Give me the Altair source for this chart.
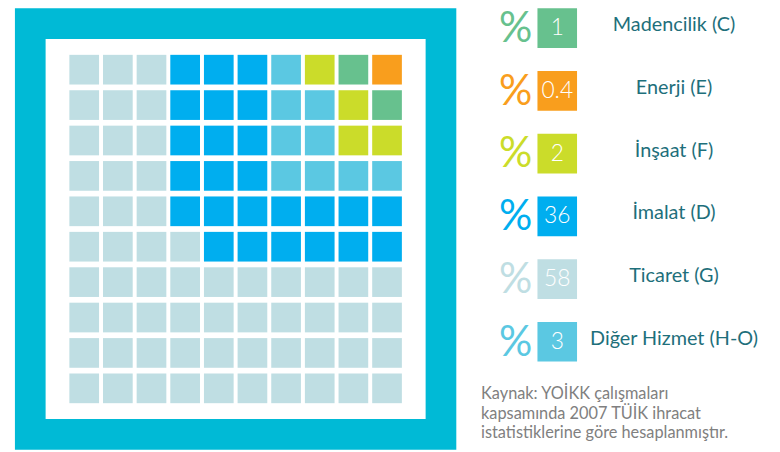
import altair as alt
import pandas as pd

# ---- data ----
categories = ["Madencilik (C)", "Enerji (E)", "İnşaat (F)", "İmalat (D)", "Ticaret (G)", "Diğer Hizmet (H-O)"]
codes = ["C", "E", "F", "D", "G", "H"]
share_labels = ["1", "0.4", "2", "36", "58", "3"]
palette = ["#67C18E", "#F99E1D", "#CBDC2A", "#00AEEF", "#BFDEE3", "#5BC8E2"]
grid_rows = [
    "GGGDDDHFCE",
    "GGGDDDHHFC",
    "GGGDDDHHFF",
    "GGGDDDHHHH",
    "GGGDDDDDDD",
    "GGGGDDDDDD",
    "GGGGGGGGGG",
    "GGGGGGGGGG",
    "GGGGGGGGGG",
    "GGGGGGGGGG",
]
source_lines = [
    "Kaynak: YOİKK çalışmaları",
    "kapsamında 2007 TÜİK ihracat",
    "istatistiklerine göre hesaplanmıştır.",
]

# ---- tables ----
code_to_cat = dict(zip(codes, categories))
cells = pd.DataFrame(
    [{"row": r, "col": c, "category": code_to_cat[ch]}
     for r, line in enumerate(grid_rows) for c, ch in enumerate(line)]
)
legend_df = pd.DataFrame({"category": categories, "share": share_labels, "pct": ["%"] * len(categories)})
source_df = pd.DataFrame({"text": ["\n".join(source_lines)]})
frame_df = pd.DataFrame({"k": [0]})

FONT = "Lato"
color = alt.Color("category:N", scale=alt.Scale(domain=categories, range=palette), legend=None)

frame = alt.Chart(frame_df).mark_rect(
    fillOpacity=0, stroke="#00BAD6", strokeWidth=31
).encode(x=alt.value(22.5), x2=alt.value(437.5), y=alt.value(13.5), y2=alt.value(428.5))

waffle = alt.Chart(cells).mark_square(size=900, opacity=1, filled=True).encode(
    x=alt.X("col:Q", scale=alt.Scale(domain=[0, 9], range=[77, 383]), axis=None),
    y=alt.Y("row:Q", scale=alt.Scale(domain=[0, 9], range=[60, 382]), axis=None),
    color=color,
)

ybase = alt.Y("category:N", scale=alt.Scale(domain=categories, range=[18, 335], padding=0), axis=None, sort=categories)

pct = alt.Chart(legend_df).mark_text(
    font=FONT, fontSize=42, fontWeight=400, align="center", baseline="middle", dy=1
).encode(x=alt.value(513), y=ybase, text="pct:N", color=color)

box = alt.Chart(legend_df).mark_square(size=1600, opacity=1, filled=True).encode(
    x=alt.value(555), y=ybase, color=color
)

num = alt.Chart(legend_df).mark_text(
    font=FONT, fontSize=23, fontWeight=300, color="white", align="center", baseline="middle"
).encode(x=alt.value(555), y=ybase, text="share:N")

label = alt.Chart(legend_df).mark_text(
    font=FONT, fontSize=20, color="#1E6F7B", align="center", baseline="middle", dy=-3
).encode(x=alt.value(673), y=ybase, text="category:N")

source = alt.Chart(source_df).mark_text(
    font=FONT, fontSize=16.5, color="#808080", align="left", baseline="alphabetic",
    lineBreak="\n", lineHeight=19.5
).encode(x=alt.value(478), y=alt.value(393), text="text:N")

chart = alt.layer(frame, waffle, pct, box, num, label, source).resolve_scale(
    x="independent", y="independent"
).properties(
    width=772, height=444, padding=0,
    autosize=alt.AutoSizeParams(type="none"),
    background="white",
).configure_view(strokeWidth=0)

chart.save("out.html", embed_options={"renderer": "svg", "actions": False})
